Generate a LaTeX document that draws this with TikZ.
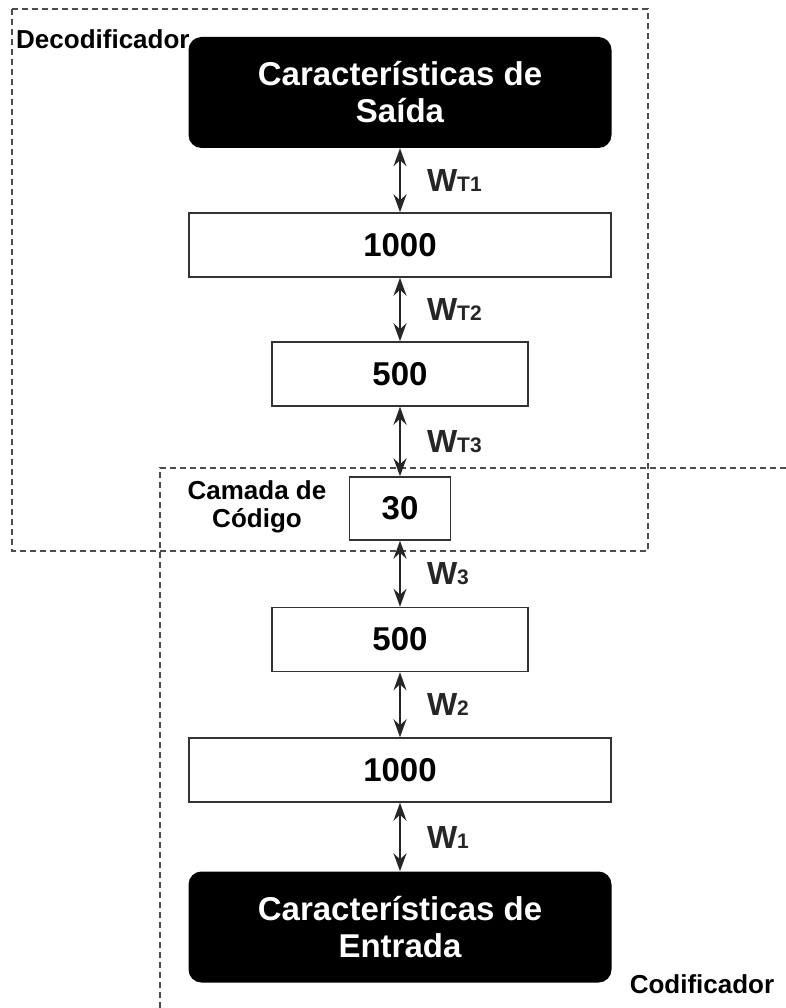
\documentclass[tikz,border=0pt]{standalone}
\usepackage{fontspec}
\setmainfont{Liberation Sans}
\usetikzlibrary{arrows.meta}

% subscript-like weight label
\newcommand{\pesolabel}[1]{W{\fontsize{21}{21}\selectfont #1}}

\begin{document}
\begin{tikzpicture}[
    x=1pt,
    y=-1pt,
    font=\bfseries,
    camada/.style={draw=black!80, line width=1.5pt, fill=white,
      inner sep=0pt, font=\fontsize{33}{37}\selectfont\bfseries},
    caract/.style={fill=black, rounded corners=13pt, text=white, align=center,
      minimum width=423pt, minimum height=111pt, inner sep=0pt,
      font=\fontsize{33}{37}\selectfont\bfseries},
    peso/.style={{Stealth[length=18pt,width=13pt,inset=6pt]}-{Stealth[length=18pt,width=13pt,inset=6pt]},
      line width=2pt, black!85},
    wlab/.style={anchor=west, inner sep=0pt, xshift=26pt,
      font=\fontsize{32}{32}\selectfont\bfseries},
    grupo/.style={black!70, line width=1.2pt, dash pattern=on 6pt off 4pt},
    rotulo/.style={inner sep=0pt, font=\fontsize{26}{28}\selectfont\bfseries}
  ]
    \useasboundingbox (0,0) rectangle (786,1008);

    % Caixas tracejadas (decodificador / codificador)
    \draw[grupo] (12,9) rectangle (648,551);
    \draw[grupo] (160,1008) -- (160,468) -- (786,468);

    \node[rotulo, anchor=west] (decod) at (16,39) {Decodificador};
    \node[rotulo] (codif) at (702,984) {Codificador};
    \node[rotulo, align=center] (camlab) at (257,507) {Camada de\\Código};

    % --- Decodificador ---
    \node[caract] (saida) at (400,92.5) {Características de\\Saída};
    \node[camada, minimum width=422pt, minimum height=64pt] (dec1000) at (400,245) {1000};
    \node[camada, minimum width=256pt, minimum height=64pt] (dec500) at (400,374) {500};

    % --- Camada de código ---
    \node[camada, minimum width=101pt, minimum height=63pt] (codigo) at (400,508.5) {30};

    % --- Codificador ---
    \node[camada, minimum width=256pt, minimum height=64pt] (enc500) at (400,639.5) {500};
    \node[camada, minimum width=422pt, minimum height=64pt] (enc1000) at (400,770) {1000};
    \node[caract] (entrada) at (400,927) {Características de\\Entrada};

    % Pesos
    \draw[peso] (saida) -- node[wlab] (wt1) {\pesolabel{T1}} (dec1000);
    \draw[peso] (dec1000) -- node[wlab] (wt2) {\pesolabel{T2}} (dec500);
    \draw[peso] (dec500) -- node[wlab] (wt3) {\pesolabel{T3}} (codigo);
    \draw[peso] (codigo) -- node[wlab] (w3) {\pesolabel{3}} (enc500);
    \draw[peso] (enc500) -- node[wlab] (w2) {\pesolabel{2}} (enc1000);
    \draw[peso] (enc1000) -- node[wlab] (w1) {\pesolabel{1}} (entrada);
  \end{tikzpicture}
\end{document}
